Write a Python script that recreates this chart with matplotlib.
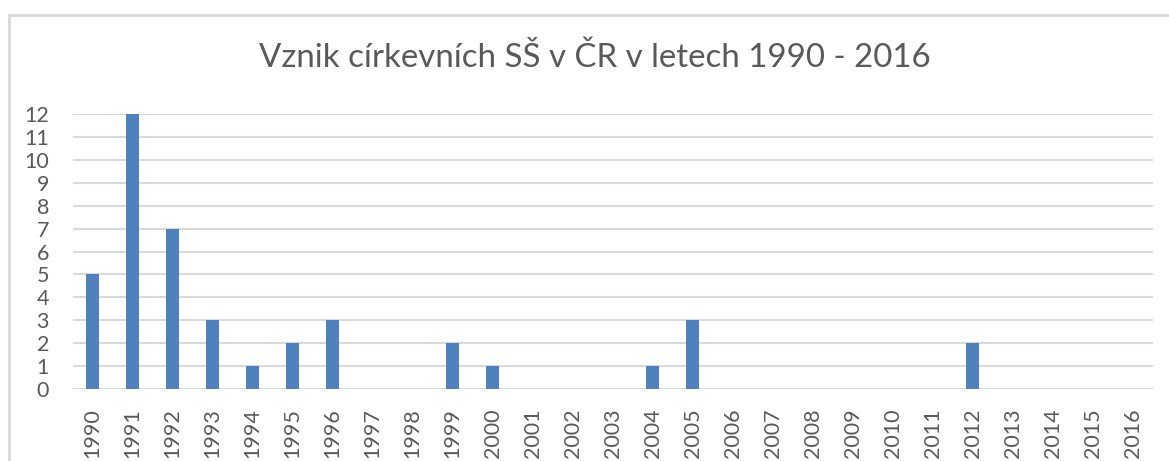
import numpy as np
import matplotlib.pyplot as plt
from matplotlib.patches import Rectangle

years = [str(y) for y in range(1990, 2017)]
counts = [5, 12, 7, 3, 1, 2, 3, 0, 0, 2, 1, 0, 0, 0, 1, 3, 0, 0, 0, 0, 0, 0, 2, 0, 0, 0, 0]

plt.rcParams['font.family'] = ['Lato', 'DejaVu Sans']

W, H = 1169, 461
fig = plt.figure(figsize=(W/100, H/100), dpi=100)
ax = fig.add_axes([72.5/W, 1 - 389/H, 1080/W, 275/H])

x = np.arange(len(years))
ax.bar(x, counts, width=0.33, color="#4F81BD", zorder=3)

ax.set_xlim(-0.5, len(years) - 0.5)
ax.set_ylim(0, 12)
ax.set_yticks(range(0, 13))
ax.set_xticks(x)
ax.set_xticklabels(years, rotation=90)
ax.tick_params(axis="both", length=0, labelsize=15.5, colors="#595959")
ax.tick_params(axis="y", pad=17)
ax.tick_params(axis="x", pad=14)
ax.grid(axis="y", color="#D9D9D9", linewidth=1.5, zorder=0)
for s in ax.spines.values():
	s.set_visible(False)

fig.text(595/W, 1 - 58/H, "Vznik církevních SŠ v ČR v letech 1990 - 2016",
	ha="center", va="center", fontsize=23.8, color="#595959")

# chart frame, only top and left edge visible
fig.patches.append(Rectangle((9/W, -0.1), 1.2, 1 - 15/H + 0.1, transform=fig.transFigure,
	fill=False, edgecolor="#D9D9D9", linewidth=2))

fig.savefig("out.png", dpi=100)
